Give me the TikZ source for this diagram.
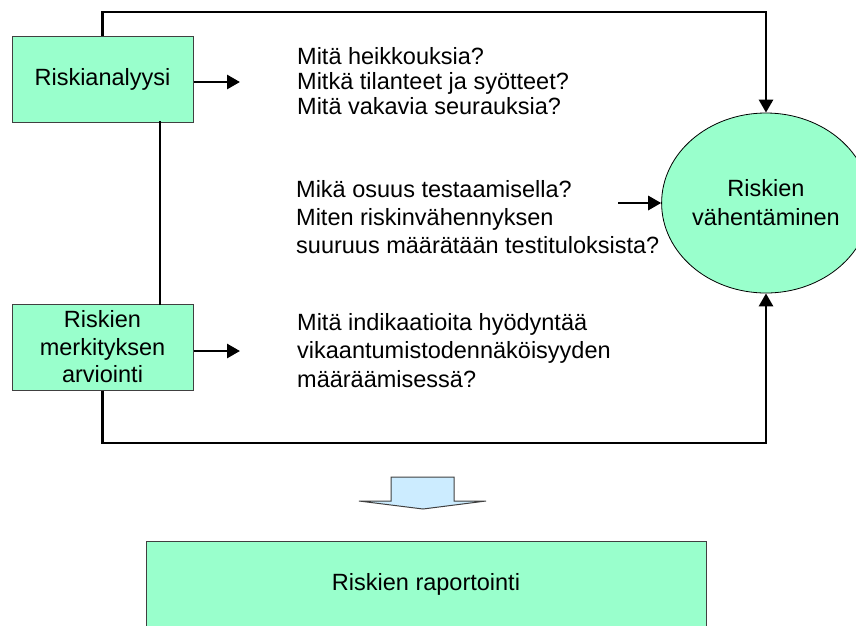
\documentclass[tikz,border=0pt]{standalone}
\usepackage{fontspec}
\setmainfont{Liberation Sans}
\usetikzlibrary{arrows.meta,shapes.geometric}
\definecolor{boxgreen}{HTML}{99FFCC}
\definecolor{boxedge}{HTML}{404040}
\definecolor{arrowblue}{HTML}{CCECFF}
\tikzset{
  stepbox/.style={draw=boxedge, line width=1pt, fill=boxgreen, align=center,
    inner sep=0pt, font=\fontsize{23.5}{27.5}\selectfont},
  goalshape/.style={ellipse, draw=black, line width=0.8pt, fill=boxgreen, align=center,
    inner sep=0pt, font=\fontsize{23.5}{29}\selectfont},
  question/.style={anchor=north west, align=left, inner sep=0pt},
  link/.style={line width=2.8pt, line cap=rect},
  pointer/.style={line width=2.8pt, -{Triangle[length=13pt,width=14pt]}},
}
\begin{document}
\begin{tikzpicture}[x=1pt, y=-1pt]
  \useasboundingbox (0,0) rectangle (856,625);
  \clip (0,0) rectangle (856,625);

  % stage boxes on the left
  \node[stepbox, minimum width=181pt, minimum height=86pt] (b1) at (102.5,79) {Riskianalyysi};
  \node[stepbox, minimum width=181pt, minimum height=86pt] (b2) at (102.5,347)
    {Riskien\\merkityksen\\arviointi};

  % goal ellipse on the right
  \node[goalshape, minimum width=198pt, minimum height=180pt] (goal) at (766,203)
    {Riskien\\vähentäminen};

  % report box at the bottom
  \node[stepbox, minimum width=560pt, minimum height=86pt] (rep) at (426,584)
    {Riskien raportointi};

  % questions
  \node[question, font=\fontsize{23.5}{25}\selectfont] (q1) at (297,47)
    {Mitä heikkouksia?\\Mitkä tilanteet ja syötteet?\\Mitä vakavia seurauksia?};
  \node[question, font=\fontsize{23.5}{28}\selectfont] (q2) at (296,180)
    {Mikä osuus testaamisella?\\Miten riskinvähennyksen\\suuruus määrätään testituloksista?};
  \node[question, font=\fontsize{23.5}{28.5}\selectfont] (q3) at (297,313)
    {Mitä indikaatioita hyödyntää\\vikaantumistodennäköisyyden\\määräämisessä?};

  % free ends of the short arrows
  \coordinate (a1) at (240,82);
  \coordinate (a2) at (240,351);
  \coordinate (a3) at (618,203);
  \coordinate (topy) at (0,12);
  \coordinate (boty) at (0,443);

  % connectors
  \draw[link] ([xshift=57.5pt]b1.south) -- ([xshift=57.5pt]b2.north);
  \draw[pointer] (b1.east |- a1) -- (a1);
  \draw[pointer] (b2.east |- a2) -- (a2);
  \draw[pointer] (a3) -- (goal.west);
  \draw[pointer] (b1.north) -- (b1.north |- topy) -- (goal.north |- topy) -- (goal.north);
  \draw[pointer] (b2.south) -- (b2.south |- boty) -- (goal.south |- boty) -- (goal.south);

  % broad downward arrow towards the report
  \draw[draw=boxedge, line width=1pt, fill=arrowblue, line join=miter]
    (391,477) -- (454,477) -- (454,501) -- (486,501) -- (423,509)
    -- (359,501) -- (391,501) -- cycle;
\end{tikzpicture}
\end{document}
